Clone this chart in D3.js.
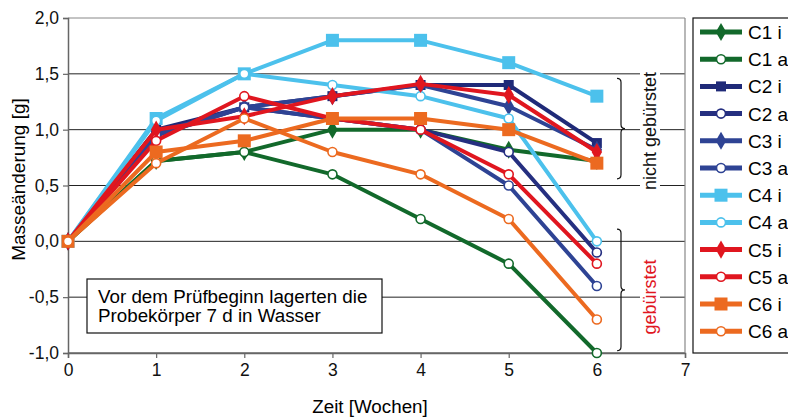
<!DOCTYPE html>
<html>
<head>
<meta charset="utf-8">
<script src="https://cdn.jsdelivr.net/npm/d3@7"></script>
<style>
  body { margin: 0; background: #fff; }
  text { font-family: "Liberation Sans", Arial, sans-serif; }
</style>
</head>
<body>
<svg id="chart" width="788" height="417"></svg>
<script>
const weeks = [0, 1, 2, 3, 4, 5, 6];
const xTicks = [0, 1, 2, 3, 4, 5, 6, 7];
const yTicks = [2.0, 1.5, 1.0, 0.5, 0.0, -0.5, -1.0];

const c1i = [0, 0.72, 0.80, 1.00, 1.00, 0.82, 0.72];
const c1a = [0, 0.72, 0.80, 0.60, 0.20, -0.20, -1.00];
const c2i = [0, 1.00, 1.20, 1.30, 1.40, 1.40, 0.88];
const c2a = [0, 0.95, 1.20, 1.10, 1.00, 0.80, -0.10];
const c3i = [0, 0.97, 1.20, 1.30, 1.40, 1.21, 0.82];
const c3a = [0, 0.95, 1.20, 1.10, 1.00, 0.50, -0.40];
const c4i = [0, 1.10, 1.50, 1.80, 1.80, 1.60, 1.30];
const c4a = [0, 1.08, 1.50, 1.40, 1.30, 1.10, 0.00];
const c5i = [0, 1.00, 1.12, 1.30, 1.41, 1.31, 0.80];
const c5a = [0, 0.90, 1.30, 1.10, 1.00, 0.60, -0.20];
const c6i = [0, 0.80, 0.90, 1.10, 1.10, 1.00, 0.70];
const c6a = [0, 0.70, 1.10, 0.80, 0.60, 0.20, -0.70];

const series = [
    {name: "C1 i", values: c1i, color: "#12692b", marker: "diamond"},
    {name: "C1 a", values: c1a, color: "#12692b", marker: "circle"},
    {name: "C2 i", values: c2i, color: "#1f2a78", marker: "square"},
    {name: "C2 a", values: c2a, color: "#252f80", marker: "circle"},
    {name: "C3 i", values: c3i, color: "#2e4394", marker: "diamond"},
    {name: "C3 a", values: c3a, color: "#2e4394", marker: "circle"},
    {name: "C4 i", values: c4i, color: "#4cc1ec", marker: "bigsquare"},
    {name: "C4 a", values: c4a, color: "#4cc1ec", marker: "circle"},
    {name: "C5 i", values: c5i, color: "#e0161f", marker: "diamond"},
    {name: "C5 a", values: c5a, color: "#e0161f", marker: "circle"},
    {name: "C6 i", values: c6i, color: "#ec6a20", marker: "bigsquare"},
    {name: "C6 a", values: c6a, color: "#ec6a20", marker: "circle"}
];

const svg = d3.select("#chart");
const x = d3.scaleLinear().domain([0, 7]).range([68, 685]);
const y = d3.scaleLinear().domain([-1, 2]).range([353, 18]);

// grid
svg.append("g")
    .selectAll("line")
    .data(yTicks)
    .enter()
    .append("line")
    .attr("x1", x(0)).attr("x2", x(7))
    .attr("y1", d => y(d)).attr("y2", d => y(d))
    .attr("stroke", d => d == 2 ? "#888" : "#222")
    .attr("stroke-width", 1);

svg.append("line")
    .attr("x1", x(7)).attr("x2", x(7))
    .attr("y1", y(2)).attr("y2", y(-1))
    .attr("stroke", "#888").attr("stroke-width", 1.2);

// axes
const fmt = d => d3.format(".1f")(d).replace(".", ",").replace("−", "-");
const yAxis = svg.append("g")
    .attr("transform", `translate(${x(0)},0)`)
    .call(d3.axisLeft(y).tickValues(yTicks).tickSize(5).tickPadding(4).tickFormat(fmt));
const xAxis = svg.append("g")
    .attr("transform", `translate(0,${y(-1)})`)
    .call(d3.axisBottom(x).tickValues(xTicks).tickSize(5).tickPadding(6).tickFormat(d3.format("d")));
[yAxis, xAxis].forEach(a =>
{
    a.select(".domain").attr("stroke", "#666").attr("stroke-width", 1.5);
    a.selectAll(".tick line").attr("stroke", "#666").attr("stroke-width", 1.2);
    a.selectAll(".tick text").attr("font-size", 17.5).attr("fill", "#111")
        .style("font-family", "'Liberation Sans', Arial, sans-serif");
});

svg.append("text")
    .attr("transform", `translate(25,${(y(2) + y(-1)) / 2 - 6}) rotate(-90)`)
    .attr("text-anchor", "middle")
    .attr("font-size", 19)
    .text("Masseänderung [g]");

svg.append("text")
    .attr("x", 370).attr("y", 413)
    .attr("text-anchor", "middle")
    .attr("font-size", 18.8)
    .text("Zeit [Wochen]");

// note box
svg.append("rect")
    .attr("x", 87).attr("y", 279).attr("width", 295).attr("height", 54)
    .attr("fill", "white").attr("stroke", "#111").attr("stroke-width", 1.2);
svg.append("text")
    .attr("x", 98).attr("y", 303).attr("font-size", 18.8)
    .text("Vor dem Prüfbeginn lagerten die");
svg.append("text")
    .attr("x", 98).attr("y", 322).attr("font-size", 18.8)
    .text("Probekörper 7 d in Wasser");

// braces and group labels
const brace = (top, bottom, xb) =>
{
    const mid = (top + bottom) / 2;
    const r = 4;
    return `M${xb - r},${top} Q${xb},${top} ${xb},${top + r} L${xb},${mid - r} Q${xb},${mid} ${xb + r},${mid}`
        + ` Q${xb},${mid} ${xb},${mid + r} L${xb},${bottom - r} Q${xb},${bottom} ${xb - r},${bottom}`;
};
svg.append("path").attr("d", brace(y(1.46), y(0.56), 621))
    .attr("fill", "none").attr("stroke", "#111").attr("stroke-width", 1.2);
svg.append("path").attr("d", brace(y(0.11), y(-0.98), 621))
    .attr("fill", "none").attr("stroke", "#111").attr("stroke-width", 1.2);

const groupLabel = (text, cy, color, h) =>
{
    svg.append("rect").attr("x", 640).attr("y", cy - h / 2).attr("width", 20).attr("height", h).attr("fill", "white");
    svg.append("text")
        .attr("transform", `translate(656,${cy}) rotate(-90)`)
        .attr("text-anchor", "middle")
        .attr("font-size", 18)
        .attr("fill", color)
        .text(text);
};
groupLabel("nicht gebürstet", 131, "#111", 132);
groupLabel("gebürstet", 297, "#e0161f", 86);

// markers
const drawMarker = (g, type, color, cx, cy) =>
{
    if (type == "circle")
    {
        g.append("circle").attr("cx", cx).attr("cy", cy).attr("r", 4.5)
            .attr("fill", "white").attr("stroke", color).attr("stroke-width", 1.6);
    }
    else if (type == "diamond")
    {
        g.append("path").attr("d", d3.symbol(d3.symbolDiamond, 95)())
            .attr("transform", `translate(${cx},${cy})`).attr("fill", color);
    }
    else
    {
        const s = type == "bigsquare" ? 13 : 10;
        g.append("rect").attr("x", cx - s / 2).attr("y", cy - s / 2)
            .attr("width", s).attr("height", s).attr("fill", color);
    }
};

const line = d3.line().x((d, i) => x(weeks[i])).y(d => y(d));
series.forEach(s =>
{
    const g = svg.append("g");
    g.append("path")
        .attr("d", line(s.values))
        .attr("fill", "none")
        .attr("stroke", s.color)
        .attr("stroke-width", 4)
        .attr("stroke-linejoin", "round");
    s.values.forEach((v, i) => drawMarker(g, s.marker, s.color, x(weeks[i]), y(v)));
});

// legend
svg.append("rect")
    .attr("x", 693).attr("y", 18).attr("width", 110).attr("height", 335)
    .attr("fill", "white").attr("stroke", "#111").attr("stroke-width", 1.2);
const legend = svg.append("g")
    .selectAll("g")
    .data(series)
    .enter()
    .append("g")
    .attr("transform", (d, i) => `translate(0,${32 + i * 27.2})`);
legend.each(function (d)
{
    const g = d3.select(this);
    g.append("line").attr("x1", 700).attr("x2", 742).attr("y1", 0).attr("y2", 0)
        .attr("stroke", d.color).attr("stroke-width", 5);
    drawMarker(g, d.marker, d.color, 721, 0);
});
legend.append("text")
    .attr("x", 748).attr("y", 7)
    .attr("font-size", 19)
    .text(d => d.name);
</script>
</body>
</html>
